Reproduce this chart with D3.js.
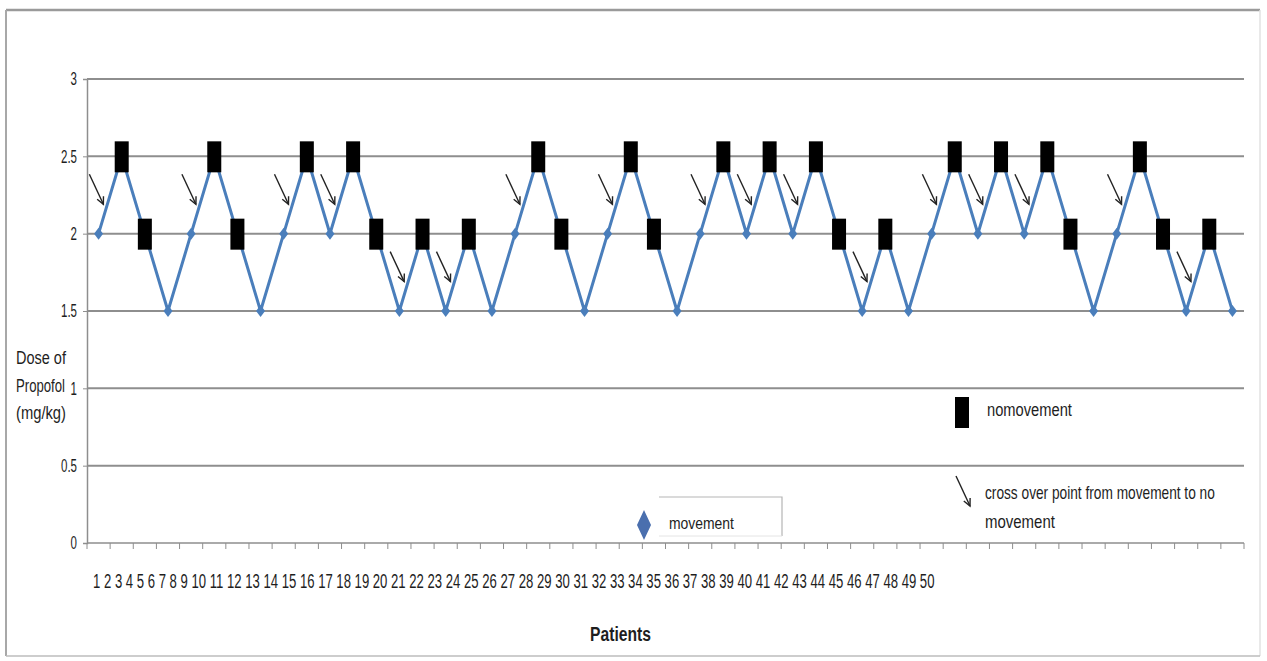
<!DOCTYPE html>
<html>
<head>
<meta charset="utf-8">
<script src="https://cdn.jsdelivr.net/npm/d3@7"></script>
<style>
  html, body { margin: 0; padding: 0; background: #fff; }
  svg text { font-family: "Liberation Sans", Arial, sans-serif; fill: #1e1e1e; }
</style>
</head>
<body>
<svg id="chart" width="1267" height="661"></svg>
<script>
// ---------------- data ----------------
const patients = [1,2,3,4,5,6,7,8,9,10,11,12,13,14,15,16,17,18,19,20,
                  21,22,23,24,25,26,27,28,29,30,31,32,33,34,35,36,37,38,39,40,
                  41,42,43,44,45,46,47,48,49,50];
const doses = [2.0,2.5,2.0,1.5,2.0,2.5,2.0,1.5,2.0,2.5,
               2.0,2.5,2.0,1.5,2.0,1.5,2.0,1.5,2.0,2.5,
               2.0,1.5,2.0,2.5,2.0,1.5,2.0,2.5,2.0,2.5,
               2.0,2.5,2.0,1.5,2.0,1.5,2.0,2.5,2.0,2.5,
               2.0,2.5,2.0,1.5,2.0,2.5,2.0,1.5,2.0,1.5];
// M = movement, N = no movement
const responses = ["M","N","N","M","M","N","N","M","M","N",
                   "M","N","N","M","N","M","N","M","M","N",
                   "N","M","M","N","N","M","M","N","M","N",
                   "M","N","N","M","N","M","M","N","M","N",
                   "M","N","N","M","M","N","N","M","N","M"];
const yTicks = [0, 0.5, 1, 1.5, 2, 2.5, 3];
const yTitle = ["Dose of", "Propofol", "(mg/kg)"];
const xTitle = "Patients";
const legendMovement = "movement";
const legendNoMovement = "nomovement";
const legendCross = ["cross over point from movement to no", "movement"];

// ---------------- layout ----------------
const svg = d3.select("#chart");
const lineColor = "#4a7ebb";
const gridColor = "#8e8e8e";

const x = d3.scaleBand().domain(patients).range([87, 1244]).paddingInner(0).paddingOuter(0);
const y = d3.scaleLinear().domain([0, 3]).range([543, 79]);
const cx = p => x(p) + x.bandwidth() / 2;

// horizontally condensed text via transform (keeps bbox honest)
function htext(parent, str, px, py, size, width, opts = {}) {
  const t = parent.append("text").attr("x", 0).attr("y", 0)
    .attr("font-size", size).text(str);
  if (opts.bold) t.attr("font-weight", "bold");
  if (opts.anchor) t.attr("text-anchor", opts.anchor);
  const w = t.node().getComputedTextLength();
  const f = width / w;
  t.attr("transform", `translate(${px},${py}) scale(${f},1)`);
  return t;
}

// outer frame
svg.append("line").attr("x1", 6).attr("x2", 1260).attr("y1", 10).attr("y2", 10)
  .attr("stroke", "#9a9a9a").attr("stroke-width", 2.5);
svg.append("line").attr("x1", 6).attr("x2", 6).attr("y1", 10).attr("y2", 656)
  .attr("stroke", "#a8a8a8").attr("stroke-width", 2);
svg.append("line").attr("x1", 1260).attr("x2", 1260).attr("y1", 10).attr("y2", 656)
  .attr("stroke", "#e2e2e2").attr("stroke-width", 1.5);
svg.append("line").attr("x1", 6).attr("x2", 1260).attr("y1", 656).attr("y2", 656)
  .attr("stroke", "#bdbdbd").attr("stroke-width", 1.5);

// gridlines
svg.append("g").selectAll("line").data(yTicks.filter(d => d > 0)).join("line")
  .attr("x1", 87).attr("x2", 1244)
  .attr("y1", d => y(d)).attr("y2", d => y(d))
  .attr("stroke", gridColor).attr("stroke-width", 2);

// y axis
const yAxis = svg.append("g").attr("transform", "translate(87,0)")
  .call(d3.axisLeft(y).tickValues(yTicks).tickSize(4).tickPadding(6).tickFormat(d3.format("")));
yAxis.select(".domain").attr("stroke", gridColor).attr("stroke-width", 1.5);
yAxis.selectAll(".tick line").attr("stroke", gridColor);
yAxis.selectAll(".tick text").each(function() {
  const t = d3.select(this);
  t.attr("font-size", 18).attr("fill", "#2a2a2a")
    .style("font-family", "'Liberation Sans', Arial, sans-serif");
  const w = this.getComputedTextLength();
  t.attr("x", 0).attr("transform", `translate(-10,0) scale(0.64,1)`);
});

// x axis (ticks at band boundaries)
const bounds = patients.map(p => x(p)).concat([x(patients[patients.length - 1]) + x.bandwidth()]);
svg.append("line").attr("x1", 87).attr("x2", 1244).attr("y1", 543).attr("y2", 543)
  .attr("stroke", gridColor).attr("stroke-width", 1.5);
svg.append("g").selectAll("line").data(bounds).join("line")
  .attr("x1", d => d).attr("x2", d => d).attr("y1", 543).attr("y2", 549)
  .attr("stroke", gridColor).attr("stroke-width", 1);

// x labels (compressed string as in the original)
htext(svg, patients.join(" "), 93, 588, 21, 842).attr("fill", "#2a2a2a");

// axis titles
yTitle.forEach((t, i) => {
  htext(svg, t, 16, [364, 392, 419][i], 19, [50, 49, 50][i]);
});
htext(svg, xTitle, 590, 641, 21, 61, { bold: true });

// line
const line = d3.line().x((d, i) => cx(patients[i])).y(d => y(d));
svg.append("path").datum(doses).attr("d", line)
  .attr("fill", "none").attr("stroke", lineColor).attr("stroke-width", 3)
  .attr("stroke-linejoin", "miter");

const pts = patients.map((p, i) => ({ p, dose: doses[i], r: responses[i], i }));

// movement diamonds
const diamond = (w, h) => `M0,${-h/2}L${w/2},0L0,${h/2}L${-w/2},0Z`;
svg.append("g").selectAll("path").data(pts.filter(d => d.r === "M")).join("path")
  .attr("transform", d => `translate(${cx(d.p)},${y(d.dose)})`)
  .attr("d", diamond(9, 12)).attr("fill", lineColor);

// no-movement squares
svg.append("g").selectAll("rect").data(pts.filter(d => d.r === "N")).join("rect")
  .attr("x", d => cx(d.p) - 7).attr("y", d => y(d.dose) - 15)
  .attr("width", 14).attr("height", 31).attr("fill", "#000");

// crossover arrows (movement -> no movement)
function arrow(g, x2, y2) {
  const x1 = x2 - 14, y1 = y2 - 30;
  const ang = Math.atan2(y2 - y1, x2 - x1);
  const hl = 8, ha = 0.45;
  g.append("line").attr("x1", x1).attr("y1", y1).attr("x2", x2).attr("y2", y2)
    .attr("stroke", "#222").attr("stroke-width", 1.4);
  g.append("path")
    .attr("d", `M${x2 - hl * Math.cos(ang - ha)},${y2 - hl * Math.sin(ang - ha)}L${x2},${y2}L${x2 - hl * Math.cos(ang + ha)},${y2 - hl * Math.sin(ang + ha)}`)
    .attr("fill", "none").attr("stroke", "#222").attr("stroke-width", 1.4);
}
const arrowsG = svg.append("g");
pts.forEach((d, i) => {
  if (i < pts.length - 1 && d.r === "M" && pts[i + 1].r === "N") {
    const t = 0.38;
    const xa = cx(d.p), ya = y(d.dose), xb = cx(pts[i + 1].p), yb = y(pts[i + 1].dose);
    arrow(arrowsG, xa + (xb - xa) * t - 4, ya + (yb - ya) * t);
  }
});

// legend: movement
svg.append("path").attr("transform", "translate(644,525)").attr("d", diamond(14, 30)).attr("fill", "#4a6fae");
svg.append("path").attr("d", "M659,497H782V536").attr("fill", "none").attr("stroke", "#b5b5b5").attr("stroke-width", 1.2);
svg.append("line").attr("x1", 659).attr("x2", 782).attr("y1", 536).attr("y2", 536).attr("stroke", "#e4e4e4");
htext(svg, legendMovement, 669, 529, 17, 65);

// legend: no movement
svg.append("rect").attr("x", 955).attr("y", 397).attr("width", 14).attr("height", 31).attr("fill", "#000");
htext(svg, legendNoMovement, 987, 416, 18, 85);

// legend: crossover
arrow(svg.append("g"), 970, 506);
legendCross.forEach((t, i) => {
  htext(svg, t, 985, [499, 528][i], 18, [230, 70][i]);
});
</script>
</body>
</html>
